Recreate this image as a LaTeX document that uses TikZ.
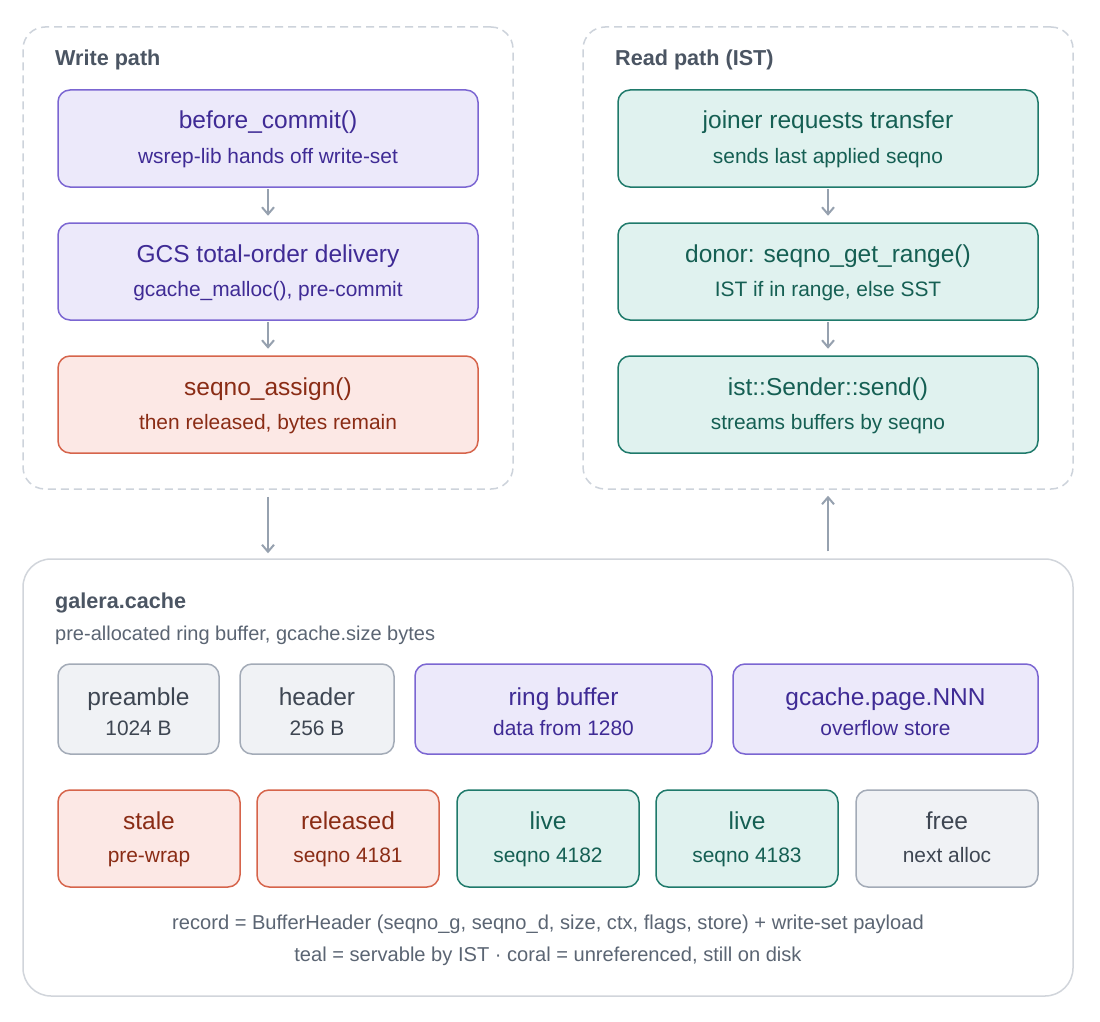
\documentclass[tikz,border=0pt]{standalone}
\usepackage{fontspec}
\setmainfont{Liberation Sans}
\usetikzlibrary{arrows.meta}
\definecolor{purF}{HTML}{ECE9FA}
\definecolor{purB}{HTML}{7B66D2}
\definecolor{purT}{HTML}{3F2B95}
\definecolor{corF}{HTML}{FCE8E5}
\definecolor{corB}{HTML}{D6644B}
\definecolor{corT}{HTML}{8A2C15}
\definecolor{teaF}{HTML}{E0F2EF}
\definecolor{teaB}{HTML}{1F7A6B}
\definecolor{teaT}{HTML}{155F53}
\definecolor{gryF}{HTML}{F0F2F5}
\definecolor{gryB}{HTML}{A3ABB7}
\definecolor{gryT}{HTML}{3E4652}
\definecolor{hdrT}{HTML}{4B5563}
\definecolor{dashC}{HTML}{CDD3DB}
\definecolor{arrC}{HTML}{96A1AF}
\definecolor{cacheB}{HTML}{D1D5DB}
\definecolor{footT}{HTML}{5B6573}
\tikzset{
  boxbase/.style={rectangle, rounded corners=12pt, line width=1.5pt, inner sep=0pt},
  pur/.style={boxbase, draw=purB, fill=purF, text=purT},
  cor/.style={boxbase, draw=corB, fill=corF, text=corT},
  tea/.style={boxbase, draw=teaB, fill=teaF, text=teaT},
  gry/.style={boxbase, draw=gryB, fill=gryF, text=gryT},
  ttl/.style={font=\fontsize{24.5}{28}\selectfont, anchor=base, draw=none, fill=none, inner sep=0pt},
  subtxt/.style={font=\fontsize{20.9}{24}\selectfont, anchor=base, draw=none, fill=none, inner sep=0pt},
  group/.style={rectangle, rounded corners=22pt, draw=dashC, line width=1.5pt, dash pattern=on 8pt off 5pt, inner sep=0pt},
  hdr/.style={font=\bfseries\fontsize{21.6}{26}\selectfont, text=hdrT, anchor=base west, inner sep=0pt},
  arr/.style={draw=arrC, line width=2pt, -{Straight Barb[length=7pt,width=12pt,line width=2pt]}},
  foot/.style={font=\fontsize{20.1}{24}\selectfont, text=footT, anchor=base, inner sep=0pt}
}
% #1 name #2 style #3 left #4 top #5 right #6 bottom #7 title #8 subtitle
\newcommand{\cbox}[8]{%
  \node[#2, minimum width={#5-#3}, minimum height={#6-#4}] (#1) at ({(#3+#5)/2},{-(#4+#6)/2}) {};
  \node[#2, ttl] (#1-t) at ({(#3+#5)/2},{-(#4+\toff)}) {#7};
  \node[#2, subtxt] (#1-s) at ({(#3+#5)/2},{-(#4+\soff)}) {#8};
}
\begin{document}
\begin{tikzpicture}[x=1pt,y=1pt]
\useasboundingbox[fill=white] (0,0) rectangle (1100,-1022);
% groups
\node[group, minimum width=490, minimum height=462] (wp) at (268,-258) {};
\node[group, minimum width=490, minimum height=462] (rp) at (828,-258) {};
\node[hdr] (wph) at (55,-65.7) {Write path};
\node[hdr] (rph) at (615,-65.7) {Read path (IST)};
\def\toff{39}\def\soff{73.5}
\cbox{w1}{pur}{58}{90}{478}{187}{before\_commit()}{wsrep-lib hands off write-set}
\cbox{w2}{pur}{58}{223}{478}{320}{GCS total-order delivery}{gcache\_malloc(), pre-commit}
\cbox{w3}{cor}{58}{356}{478}{453}{seqno\_assign()}{then released, bytes remain}
\cbox{r1}{tea}{618}{90}{1038}{187}{joiner requests transfer}{sends last applied seqno}
\cbox{r2}{tea}{618}{223}{1038}{320}{donor: seqno\_get\_range()}{IST if in range, else SST}
\cbox{r3}{tea}{618}{356}{1038}{453}{ist::Sender::send()}{streams buffers by seqno}
\draw[arr, shorten <=1.5pt, shorten >=6.5pt] (w1) -- (w2);
\draw[arr, shorten <=1.5pt, shorten >=6.5pt] (w2) -- (w3);
\draw[arr, shorten <=1.5pt, shorten >=6.5pt] (r1) -- (r2);
\draw[arr, shorten <=1.5pt, shorten >=6.5pt] (r2) -- (r3);
% cache
\node[rectangle, rounded corners=28pt, draw=cacheB, line width=1.5pt, minimum width=1050, minimum height=437, inner sep=0pt] (gc) at (548,-777.5) {};
\node[hdr] (gch) at (55,-608.3) {galera.cache};
\node[font=\fontsize{20}{24}\selectfont, text=footT, anchor=base west, inner sep=0pt] (gcs) at (55,-640) {pre-allocated ring buffer, gcache.size bytes};
\def\toff{41}\def\soff{71.7}
\cbox{c1}{gry}{58}{664}{219}{754}{preamble}{1024 B}
\cbox{c2}{gry}{240}{664}{394}{754}{header}{256 B}
\cbox{c3}{pur}{415}{664}{712}{754}{ring buffer}{data from 1280}
\cbox{c4}{pur}{733}{664}{1038}{754}{gcache.page.NNN}{overflow store}
\def\toff{39.3}\def\soff{72.7}
\cbox{d1}{cor}{58}{790}{240}{887}{stale}{pre-wrap}
\cbox{d2}{cor}{257}{790}{439}{887}{released}{seqno 4181}
\cbox{d3}{tea}{457}{790}{639}{887}{live}{seqno 4182}
\cbox{d4}{tea}{656}{790}{838}{887}{live}{seqno 4183}
\cbox{d5}{gry}{856}{790}{1038}{887}{free}{next alloc}
\node[foot] (f1) at (548,-929.3) {record = BufferHeader (seqno\_g, seqno\_d, size, ctx, flags, store) + write-set payload};
\node[foot] (f2) at (548,-961.7) {teal = servable by IST · coral = unreferenced, still on disk};
% inter-group arrows
\draw[arr, shorten <=7pt, shorten >=5pt] (wp.south) -- (wp.south |- gc.north);
\draw[arr, shorten <=7pt, shorten >=6pt] (rp.south |- gc.north) -- (rp.south);
\end{tikzpicture}
\end{document}
